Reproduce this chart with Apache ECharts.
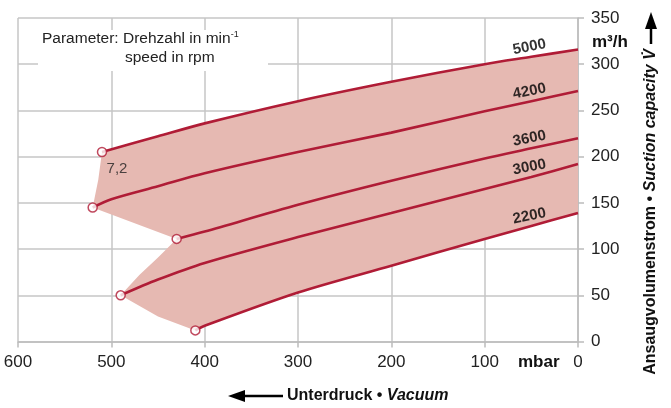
<!DOCTYPE html>
<html>
<head>
<meta charset="utf-8">
<script src="https://cdn.jsdelivr.net/npm/echarts@6/dist/echarts.min.js"></script>
<style>
  html, body { margin: 0; padding: 0; background: #fff; }
  #chart { width: 671px; height: 408px; }
</style>
</head>
<body>
<div id="chart"></div>
<script>
// [mbar, m3/h], first point = open circle
const curve5000 = [[510, 205], [450, 222], [400, 236], [300, 260], [200, 281], [100, 300], [50, 308], [0, 316]]
const curve4200 = [[520, 145], [500, 154], [450, 168], [400, 182], [300, 205], [200, 226], [100, 249], [50, 260], [0, 271]]
const curve3600 = [[430, 111], [400, 119], [300, 148], [200, 174], [100, 198], [50, 209], [0, 220]]
const curve3000 = [[490, 50], [450, 67], [400, 85], [300, 113], [200, 139], [100, 165], [50, 178], [0, 192]]
const curve2200 = [[410, 12], [400, 17], [300, 53], [200, 82], [100, 111], [50, 125], [0, 139]]
const speeds = ['5000', '4200', '3600', '3000', '2200']
const curves = [curve5000, curve4200, curve3600, curve3000, curve2200]
// left border of the shaded field, from the 2200 start up to the 5000 start
const shadeEdge = [[410, 12], [450, 27], [490, 50], [470, 72], [450, 91], [430, 111], [520, 145], [514, 175], [510, 205]]
const labelAt = 50 // mbar where the speed names sit

const red = '#b01c36'
const font = 'Liberation Sans, Arial, Helvetica, sans-serif'

var chart = echarts.init(document.getElementById('chart'))

// polygon: 5000 curve left->right, then 2200 curve right->left, then the left edge
const shade = curve5000.slice().concat(curve2200.slice().reverse(), shadeEdge)

const lineSeries = curves.map((c, i) => ({
	name: speeds[i],
	type: 'line',
	data: c,
	smooth: 0.3,
	showSymbol: false,
	z: 3,
	lineStyle: { color: red, width: 2.6 }
}))

const nameSeries = {
	type: 'scatter',
	z: 5,
	symbolSize: 1,
	itemStyle: { color: 'rgba(255,255,255,0)' },
	label: {
		show: true,
		position: 'inside',
		offset: [0, -10],
		rotate: 11,
		fontFamily: font,
		fontSize: 15,
		fontWeight: 'bold',
		color: '#000',
		textBorderWidth: 0,
		formatter: (p) => p.name
	},
	data: curves.map((c, i) => {
		const pt = c.find(d => d[0] === labelAt)
		return { name: speeds[i], value: pt }
	})
}

const startSeries = {
	type: 'scatter',
	z: 6,
	symbol: 'circle',
	symbolSize: 9,
	itemStyle: { color: '#fff', borderColor: red, borderWidth: 1.5 },
	data: curves.map((c, i) => {
		const item = { value: c[0] }
		if (i === 0) {
			item.label = {
				show: true, formatter: '7,2', position: 'inside', offset: [15, 17],
				fontFamily: font, fontSize: 15, color: '#222', textBorderWidth: 0
			}
		}
		return item
	})
}

var option = {
	animation: false,
	grid: { left: 18, right: 93, top: 18, bottom: 66.5 },
	xAxis: {
		type: 'value',
		min: 0, max: 600, interval: 100,
		inverse: true,
		axisLine: { lineStyle: { color: '#bcbcbc', width: 1.5 } },
		axisTick: { show: true, length: 6, lineStyle: { color: '#bcbcbc', width: 1.5 } },
		splitLine: { lineStyle: { color: '#c6c6c6', width: 1.5 } },
		axisLabel: { fontFamily: font, fontSize: 17, color: '#222', margin: 12 }
	},
	yAxis: {
		type: 'value',
		position: 'right',
		min: 0, max: 350, interval: 50,
		axisLine: { show: true, lineStyle: { color: '#bcbcbc', width: 1.5 } },
		axisTick: { show: true, length: 6, lineStyle: { color: '#bcbcbc', width: 1.5 } },
		splitLine: { lineStyle: { color: '#c6c6c6', width: 1.5 } },
		axisLabel: { fontFamily: font, fontSize: 17, color: '#222', margin: 13 }
	},
	graphic: [
		{ type: 'rect', z: 100, shape: { x: 38, y: 30, width: 230, height: 41 }, style: { fill: '#fff' } },
		{
			type: 'text', z: 101, left: 42, top: 30,
			style: {
				text: 'Parameter: Drehzahl in min{s|-1}', fontFamily: font, fontSize: 15.5, fill: '#222',
				rich: { s: { fontSize: 9, verticalAlign: 'top', padding: [0, 0, 8, 0], fontFamily: font, fill: '#222' } }
			}
		},
		{ type: 'text', z: 101, left: 125, top: 50, style: { text: 'speed in rpm', fontFamily: font, fontSize: 15.5, fill: '#222' } },
		{ type: 'text', z: 101, left: 592, top: 34, style: { text: 'm³/h', fontFamily: font, fontSize: 17, fontWeight: 'bold', fill: '#111' } },
		{ type: 'text', z: 101, left: 518, top: 354, style: { text: 'mbar', fontFamily: font, fontSize: 17, fontWeight: 'bold', fill: '#111' } },
		// bottom arrow + title
		{ type: 'line', z: 101, shape: { x1: 242, y1: 396, x2: 283, y2: 396 }, style: { stroke: '#000', lineWidth: 2.5 } },
		{ type: 'polygon', z: 101, shape: { points: [[228, 396], [245, 390], [245, 402]] }, style: { fill: '#000' } },
		{
			type: 'text', z: 101, left: 287, top: 388,
			style: {
				text: '{b|Unterdruck • }{i|Vacuum}',
				rich: {
					b: { fontFamily: font, fontSize: 16, fontWeight: 'bold', fill: '#111' },
					i: { fontFamily: font, fontSize: 16, fontWeight: 'bold', fontStyle: 'italic', fill: '#111' }
				}
			}
		},
		// right arrow + title
		{ type: 'line', z: 101, shape: { x1: 651, y1: 27, x2: 651, y2: 44 }, style: { stroke: '#000', lineWidth: 2.5 } },
		{ type: 'polygon', z: 101, shape: { points: [[651, 12], [645, 29], [657, 29]] }, style: { fill: '#000' } },
		{
			type: 'text', z: 101, x: 651, y: 212, rotation: Math.PI / 2,
			style: {
				text: '{b|Ansaugvolumenstrom • }{i|Suction capacity V̇}',
				align: 'center', verticalAlign: 'middle',
				rich: {
					b: { fontFamily: font, fontSize: 16, fontWeight: 'bold', fill: '#111' },
					i: { fontFamily: font, fontSize: 16, fontWeight: 'bold', fontStyle: 'italic', fill: '#111' }
				}
			}
		}
	],
	series: [{
		type: 'custom',
		z: 1,
		data: [[0, 0]],
		renderItem: (params, api) => ({
			type: 'polygon',
			shape: { points: shade.map(p => api.coord(p)) },
			style: { fill: '#e6b9b2' }
		})
	}].concat(lineSeries, [nameSeries, startSeries])
}
chart.setOption(option)
</script>
</body>
</html>
